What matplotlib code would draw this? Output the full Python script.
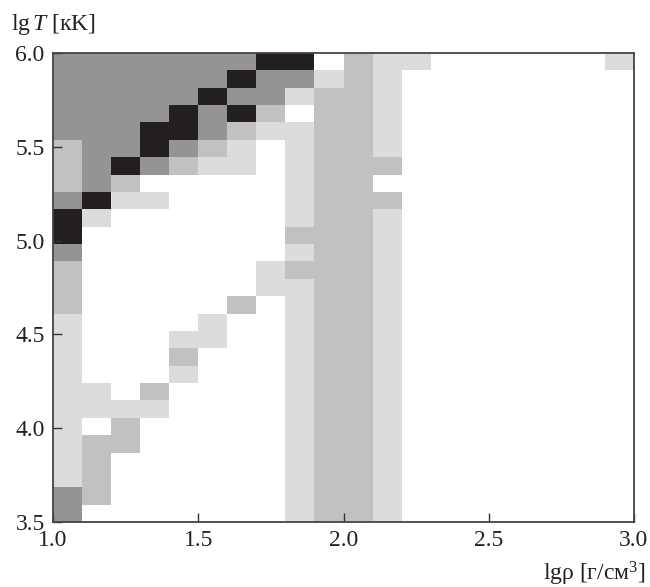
import numpy as np
import matplotlib
matplotlib.use("Agg")
import matplotlib.pyplot as plt
from matplotlib.colors import ListedColormap, BoundaryNorm

plt.rcParams['font.family'] = ['Liberation Serif', 'DejaVu Serif']
plt.rcParams['mathtext.fontset'] = 'custom'
plt.rcParams['mathtext.rm'] = 'Liberation Serif'
plt.rcParams['mathtext.it'] = 'Liberation Serif:italic'

# density grid (lg rho) and temperature grid (lg T)
rho_min, rho_max, n_rho = 1.0, 3.0, 20
T_min, T_max, n_T = 3.5, 6.0, 27

# region levels: 0 white, 1 light, 2 medium, 3 dark, 4 black ; rows from top (lgT=6) to bottom
levels = [
    [3,3,3,3,3,3,3,4,4,0,2,1,1,0,0,0,0,0,0,1],
    [3,3,3,3,3,3,4,3,3,1,2,1,0,0,0,0,0,0,0,0],
    [3,3,3,3,3,4,3,3,1,2,2,1,0,0,0,0,0,0,0,0],
    [3,3,3,3,4,3,4,2,0,2,2,1,0,0,0,0,0,0,0,0],
    [3,3,3,4,4,3,2,1,1,2,2,1,0,0,0,0,0,0,0,0],
    [2,3,3,4,3,2,1,0,1,2,2,1,0,0,0,0,0,0,0,0],
    [2,3,4,3,2,1,1,0,1,2,2,2,0,0,0,0,0,0,0,0],
    [2,3,2,0,0,0,0,0,1,2,2,0,0,0,0,0,0,0,0,0],
    [3,4,1,1,0,0,0,0,1,2,2,2,0,0,0,0,0,0,0,0],
    [4,1,0,0,0,0,0,0,1,2,2,1,0,0,0,0,0,0,0,0],
    [4,0,0,0,0,0,0,0,2,2,2,1,0,0,0,0,0,0,0,0],
    [3,0,0,0,0,0,0,0,1,2,2,1,0,0,0,0,0,0,0,0],
    [2,0,0,0,0,0,0,1,2,2,2,1,0,0,0,0,0,0,0,0],
    [2,0,0,0,0,0,0,1,1,2,2,1,0,0,0,0,0,0,0,0],
    [2,0,0,0,0,0,2,0,1,2,2,1,0,0,0,0,0,0,0,0],
    [1,0,0,0,0,1,0,0,1,2,2,1,0,0,0,0,0,0,0,0],
    [1,0,0,0,1,1,0,0,1,2,2,1,0,0,0,0,0,0,0,0],
    [1,0,0,0,2,0,0,0,1,2,2,1,0,0,0,0,0,0,0,0],
    [1,0,0,0,1,0,0,0,1,2,2,1,0,0,0,0,0,0,0,0],
    [1,1,0,2,0,0,0,0,1,2,2,1,0,0,0,0,0,0,0,0],
    [1,1,1,1,0,0,0,0,1,2,2,1,0,0,0,0,0,0,0,0],
    [1,0,2,0,0,0,0,0,1,2,2,1,0,0,0,0,0,0,0,0],
    [1,2,2,0,0,0,0,0,1,2,2,1,0,0,0,0,0,0,0,0],
    [1,2,0,0,0,0,0,0,1,2,2,1,0,0,0,0,0,0,0,0],
    [1,2,0,0,0,0,0,0,1,2,2,1,0,0,0,0,0,0,0,0],
    [3,2,0,0,0,0,0,0,1,2,2,1,0,0,0,0,0,0,0,0],
    [3,0,0,0,0,0,0,0,1,2,2,1,0,0,0,0,0,0,0,0],
]

xticks = [1.0, 1.5, 2.0, 2.5, 3.0]
yticks = [3.5, 4.0, 4.5, 5.0, 5.5, 6.0]
colors = ['#ffffff', '#dcdcde', '#c1c1c3', '#949497', '#231f20']

x_edges = np.linspace(rho_min, rho_max, n_rho + 1)
y_edges = np.linspace(T_min, T_max, n_T + 1)
Z = np.array(levels)[::-1]

fig = plt.figure(figsize=(6.5, 5.87), dpi=100)
ax = fig.add_axes([53/650, 1-522/587, (634-53)/650, (522-53)/587])
cmap = ListedColormap(colors)
norm = BoundaryNorm(np.arange(-0.5, 5.5, 1), cmap.N)
ax.pcolormesh(x_edges, y_edges, Z, cmap=cmap, norm=norm, shading='flat')

ax.set_xlim(rho_min, rho_max)
ax.set_ylim(T_min, T_max)
ax.set_xticks(xticks)
ax.set_yticks(yticks)
ax.set_xticklabels([f'{v:.1f}' for v in xticks])
ax.set_yticklabels([f'{v:.1f}' for v in yticks])
ax.tick_params(direction='in', length=6.5, width=1.0, labelsize=17, colors='#333333', labelcolor='#222222')
ax.tick_params(axis='x', pad=6)
ax.tick_params(axis='y', pad=6)
for s in ax.spines.values():
    s.set_color('#444444')
    s.set_linewidth(1.3)
    s.set_zorder(5)

fig.text(11/650, 1-30/587, r'lg$\,\mathit{T}$ [кK]', fontsize=17, ha='left', va='baseline', color='#222222')
fig.text(646/650, 1-580/587, 'lgρ [г/см$^{3}$]', fontsize=17, ha='right', va='baseline', color='#222222')

fig.savefig('out.png', dpi=100)
